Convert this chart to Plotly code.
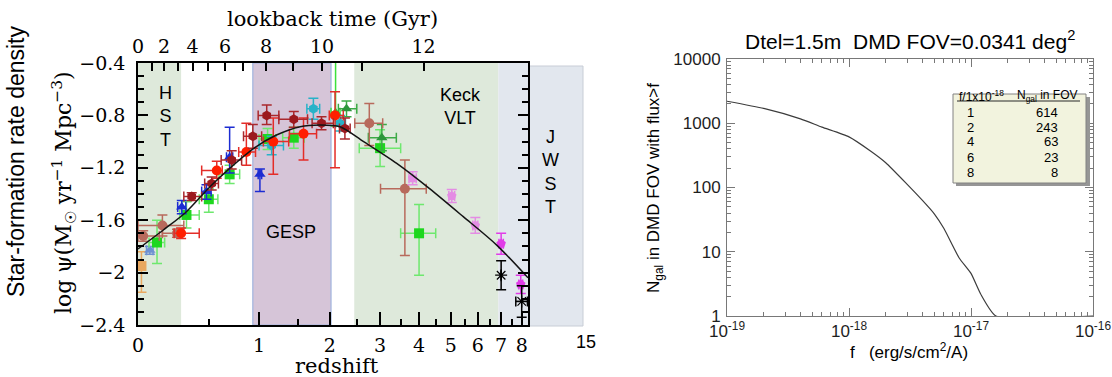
import math
import plotly.graph_objects as go

W, H = 1112, 377

# ---------------- Left panel: cosmic star-formation history ----------------
curve_z = [0.0, 0.156, 0.32, 0.51, 0.69, 0.94, 1.21, 1.53, 1.83, 2.18, 2.64, 3.4, 4.3, 5.44, 6.8, 8.33]
curve_logpsi = [-1.82, -1.675, -1.535, -1.344, -1.204, -1.051, -0.95, -0.886, -0.873, -0.886,
                -1.0, -1.166, -1.357, -1.573, -1.79, -2.04]

# point tuples: (z, log psi, z err -, z err +, log psi err -, log psi err +)
red_pts = [
    (0.28, -1.70, 0.05, 0.14, 0.04, 0.04),
    (0.57, -1.22, 0.13, 0.05, 0.06, 0.07),
    (0.86, -1.08, 0.08, 0.10, 0.10, 0.22),
    (1.17, -1.00, 0.12, 0.20, 0.25, 0.18),
    (1.58, -0.94, 0.20, 0.20, 0.20, 0.12),
    (2.09, -0.80, 0.10, 0.15, 0.40, 0.18),
]
maroon_pts = [
    (0.36, -1.42, 0.06, 0.08, 0.03, 0.03),
    (0.525, -1.32, 0.06, 0.06, 0.05, 0.05),
    (0.71, -1.14, 0.10, 0.10, 0.07, 0.07),
    (0.93, -0.96, 0.10, 0.10, 0.09, 0.09),
    (1.09, -0.80, 0.10, 0.15, 0.07, 0.08),
    (1.44, -0.83, 0.20, 0.20, 0.06, 0.06),
    (1.86, -0.86, 0.15, 0.20, 0.05, 0.05),
    (2.27, -0.90, 0.10, 0.10, 0.08, 0.08),
]
green_sq_pts = [
    (0.115, -1.77, 0.05, 0.05, 0.16, 0.17),
    (0.32, -1.56, 0.05, 0.10, 0.10, 0.10),
    (0.50, -1.44, 0.08, 0.08, 0.10, 0.08),
    (0.69, -1.25, 0.10, 0.10, 0.07, 0.07),
    (1.10, -0.98, 0.10, 0.10, 0.08, 0.08),
    (1.44, -0.97, 0.15, 0.15, 0.08, 0.08),
    (3.00, -1.05, 0.45, 0.50, 0.14, 0.14),
    (4.00, -1.70, 0.50, 0.50, 0.32, 0.22),
]
green_tri_pts = [
    (2.10, -0.78, 0.08, 0.08, 0.10, 0.70),
]
dkgreen_tri_pts = [
    (2.30, -0.75, 0.15, 0.20, 0.06, 0.06),
    (3.04, -0.97, 0.30, 0.35, 0.10, 0.10),
]
blue_pts = [
    (0.285, -1.50, 0.03, 0.03, 0.05, 0.05),
    (0.48, -1.38, 0.04, 0.04, 0.06, 0.05),
    (0.69, -1.12, 0.03, 0.03, 0.12, 0.23),
    (1.01, -1.25, 0.02, 0.02, 0.13, 0.04),
]
teal_pts = [
    (1.15, -1.03, 0.15, 0.15, 0.07, 0.07),
    (1.73, -0.75, 0.10, 0.10, 0.08, 0.08),
    (2.18, -0.86, 0.08, 0.10, 0.06, 0.06),
]
brown_pts = [
    (0.03, -1.72, 0.03, 0.10, 0.04, 0.04),
    (0.15, -1.64, 0.15, 0.15, 0.08, 0.08),
    (0.25, -1.70, 0.10, 0.04, 0.03, 0.03),
    (2.76, -0.86, 0.30, 0.30, 0.17, 0.15),
    (3.61, -1.36, 0.60, 0.60, 0.51, 0.22),
]
tan_pts = [(0.02, -1.95, 0.01, 0.01, 0.20, 0.11)]
steel_pts = [(0.07, -1.83, 0.02, 0.02, 0.03, 0.03)]
pink_pts = [
    (3.82, -1.28, 0.10, 0.10, 0.05, 0.05),
    (5.03, -1.415, 0.10, 0.10, 0.05, 0.05),
    (5.90, -1.64, 0.10, 0.10, 0.06, 0.06),
]
magenta_pts = [
    (7.00, -1.78, 0.10, 0.10, 0.08, 0.08),
    (7.95, -2.09, 0.10, 0.10, 0.07, 0.07),
]
black_pts = [
    (7.00, -2.02, 0.00, 0.00, 0.11, 0.11),
    (8.00, -2.22, 0.30, 0.30, 0.12, 0.12),
]

# telescope bands (redshift ranges)
hst_z = [0.0, 0.28]
gesp_z = [0.93, 2.02]
keck_z = [2.45, 6.87]
jwst_z = [6.87, 8.33]

z_max = 8.33
z_major = [0, 1, 2, 3, 4, 5, 6, 7, 8]
z_minor = [0.5, 1.5, 2.5, 3.5, 4.5, 5.5, 6.5, 7.5]
lookback_gyr = [0, 1, 2, 3, 4, 5, 6, 7, 8, 9, 10, 11, 12]
lookback_z = [0.0, 0.082, 0.161, 0.26, 0.367, 0.496, 0.646, 0.828, 1.082, 1.434, 1.87, 2.60, 4.13]
psi_ticks = [-0.4, -0.8, -1.2, -1.6, -2.0, -2.4]
psi_labels = ["\u22120.4", "\u22120.8", "\u22121.2", "\u22121.6", "\u22122", "\u22122.4"]

# ---------------- Right panel: galaxy counts ----------------
flux = [1e-19, 2e-19, 4e-19, 6e-19, 1e-18, 1.5e-18, 2e-18, 3e-18, 4e-18, 5e-18, 6e-18,
        8e-18, 1e-17, 1.2e-17, 1.6e-17, 1e-16]
ngal = [2200, 1700, 1170, 870, 614, 370, 243, 112, 63, 39, 23, 8, 4.6, 2.2, 1.0, 1.0]
table_f = ["1", "2", "4", "6", "8"]
table_n = ["614", "243", "63", "23", "8"]

# ---------------- geometry (pixels) ----------------
L_x0, L_x1, L_y0, L_y1 = 138, 528, 63, 325
R_x0, R_x1, R_y0, R_y1 = 727, 1093, 59, 316


def px(p):
    return p / W


def py(p):
    return 1 - p / H


SERIF = "DejaVu Serif, serif"
SANS = "Liberation Sans, Arial, sans-serif"

fig = go.Figure()


def band(zr, fill, line_color=None):
    xs = [1 + zr[0], 1 + zr[1], 1 + zr[1], 1 + zr[0], 1 + zr[0]]
    ys = [-2.4, -2.4, -0.4, -0.4, -2.4]
    fig.add_trace(go.Scatter(
        x=xs, y=ys, mode="lines", fill="toself", fillcolor=fill,
        line=dict(color=line_color or "rgba(0,0,0,0)", width=1.2 if line_color else 0),
        xaxis="x", yaxis="y", hoverinfo="skip", showlegend=False))


band(hst_z, "rgb(222,233,219)")
band(keck_z, "rgb(222,233,219)")
band(jwst_z, "rgb(226,231,238)")
band(gesp_z, "rgb(214,197,216)", "rgb(160,180,222)")


def points(pts, color, symbol, errcolor=None, size=10, line=None):
    errcolor = errcolor or color
    mk = dict(symbol=symbol, size=size, color=color)
    if line:
        mk["line"] = line
    fig.add_trace(go.Scatter(
        x=[1 + p[0] for p in pts], y=[p[1] for p in pts], mode="markers",
        marker=mk,
        error_x=dict(type="data", symmetric=False, array=[p[3] for p in pts],
                     arrayminus=[p[2] for p in pts], color=errcolor, thickness=1.5, width=5),
        error_y=dict(type="data", symmetric=False, array=[p[5] for p in pts],
                     arrayminus=[p[4] for p in pts], color=errcolor, thickness=1.5, width=5),
        xaxis="x", yaxis="y", hoverinfo="skip", showlegend=False))


points(tan_pts, "rgb(233,168,96)", "square")
points(steel_pts, "rgb(110,145,210)", "triangle-up")
points(green_sq_pts, "rgb(30,215,30)", "square", "rgb(110,232,110)")
points(green_tri_pts, "rgb(40,210,40)", "triangle-up", "rgb(60,225,60)")
points(dkgreen_tri_pts, "rgb(45,150,60)", "triangle-up", "rgb(60,170,70)")
points(blue_pts, "rgb(28,44,210)", "triangle-up")
points(teal_pts, "rgb(40,178,200)", "hexagon")
points(brown_pts, "rgb(184,106,92)", "circle")
points(red_pts, "rgb(255,30,0)", "circle", "rgb(228,45,40)")
points(maroon_pts, "rgb(155,25,30)", "hexagon", "rgb(170,40,45)")
points(pink_pts, "rgb(228,140,228)", "pentagon")
points(magenta_pts, "rgb(225,60,232)", "pentagon")
points(black_pts, "black", "asterisk-open", "black", size=10, line=dict(color="black", width=1.2))

fig.add_trace(go.Scatter(
    x=[1 + z for z in curve_z], y=curve_logpsi, mode="lines",
    line=dict(color="rgb(20,20,20)", width=1.5, shape="spline", smoothing=0.8),
    xaxis="x", yaxis="y", hoverinfo="skip", showlegend=False))

# invisible trace to activate top (lookback) axis
fig.add_trace(go.Scatter(x=[1, 1 + z_max], y=[-2.4, -2.4], mode="markers",
                         marker=dict(opacity=0), xaxis="x2", yaxis="y",
                         hoverinfo="skip", showlegend=False))

# right-panel curve
fig.add_trace(go.Scatter(x=flux, y=ngal, mode="lines",
                         line=dict(color="rgb(60,60,60)", width=1.2, shape="spline", smoothing=0.5),
                         xaxis="x3", yaxis="y3", hoverinfo="skip", showlegend=False))

lrange = [0, math.log10(1 + z_max)]
tickfont_serif = dict(family=SERIF, size=19, color="black")

fig.update_layout(
    width=W, height=H, margin=dict(l=0, r=0, t=0, b=0, autoexpand=False),
    paper_bgcolor="white", plot_bgcolor="white", hovermode=False,
    xaxis=dict(domain=[px(L_x0), px(L_x1)], anchor="y", type="log", range=lrange,
               tickmode="array", tickvals=[1 + z for z in z_major], ticktext=[str(z) for z in z_major],
               ticks="inside", ticklen=13, tickwidth=1.5, tickcolor="black",
               minor=dict(tickmode="array", tickvals=[1 + z for z in z_minor], ticks="inside",
                          ticklen=6, tickwidth=1.5, tickcolor="black", showgrid=False),
               showline=True, linecolor="black", linewidth=1.5, mirror=False,
               showgrid=False, zeroline=False, tickfont=tickfont_serif, ticklabelstandoff=2),
    xaxis2=dict(overlaying="x", side="top", anchor="y", type="log", range=lrange,
                tickmode="array", tickvals=[1 + z for z in lookback_z],
                ticktext=[str(g) if g % 2 == 0 else "" for g in lookback_gyr],
                ticks="inside", ticklen=8, tickwidth=1.5, tickcolor="black",
                showline=True, linecolor="black", linewidth=1.5,
                showgrid=False, zeroline=False, tickfont=tickfont_serif, ticklabelstandoff=1),
    yaxis=dict(domain=[py(L_y1), py(L_y0)], anchor="x", range=[-2.4, -0.4],
               tickmode="array", tickvals=psi_ticks, ticktext=psi_labels,
               ticks="inside", ticklen=10, tickwidth=1.5, tickcolor="black",
               minor=dict(dtick=0.1, tick0=-0.4, ticks="inside", ticklen=6, tickwidth=1.5,
                          tickcolor="black", showgrid=False),
               showline=True, linecolor="black", linewidth=1.5, mirror="ticks",
               showgrid=False, zeroline=False, tickfont=tickfont_serif, ticklabelstandoff=7),
    xaxis3=dict(domain=[px(R_x0), px(R_x1)], anchor="y3", type="log", range=[-19, -16],
                tickmode="array", tickvals=[1e-19, 1e-18, 1e-17, 1e-16],
                ticktext=["10<sup>-19</sup>", "10<sup>-18</sup>", "10<sup>-17</sup>", "10<sup>-16</sup>"],
                ticks="inside", ticklen=8, tickwidth=1, tickcolor="rgb(120,120,120)",
                minor=dict(tickmode="array",
                           tickvals=[m * 10.0 ** e for e in range(-19, -16) for m in range(2, 10)],
                           ticks="inside", ticklen=4, tickwidth=1, tickcolor="rgb(120,120,120)",
                           showgrid=False),
                showline=True, linecolor="rgb(120,120,120)", linewidth=1, mirror="ticks",
                showgrid=False, zeroline=False,
                tickfont=dict(family=SANS, size=17, color="rgb(30,30,30)")),
    yaxis3=dict(domain=[py(R_y1), py(R_y0)], anchor="x3", type="log", range=[0, 4],
                tickmode="array", tickvals=[1, 10, 100, 1000, 10000],
                ticktext=["1", "10", "100", "1000", "10000"],
                ticks="inside", ticklen=8, tickwidth=1, tickcolor="rgb(120,120,120)",
                minor=dict(tickmode="array",
                           tickvals=[m * 10.0 ** e for e in range(0, 4) for m in range(2, 10)],
                           ticks="inside", ticklen=4, tickwidth=1, tickcolor="rgb(120,120,120)",
                           showgrid=False),
                showline=True, linecolor="rgb(120,120,120)", linewidth=1, mirror="ticks",
                showgrid=False, zeroline=False,
                tickfont=dict(family=SANS, size=17, color="rgb(30,30,30)"), ticklabelstandoff=2),
)

shapes = [
    # JWST box continuing outside the left axes
    dict(type="rect", xref="paper", yref="paper", x0=px(528), x1=px(583), y0=py(326), y1=py(66),
         fillcolor="rgb(226,231,238)", line=dict(color="rgb(200,205,214)", width=1), layer="below"),
    # table shadow and box
    dict(type="rect", xref="paper", yref="paper", x0=px(956), x1=px(1090), y0=py(186), y1=py(97),
         fillcolor="rgb(150,150,150)", line=dict(width=0)),
    dict(type="rect", xref="paper", yref="paper", x0=px(953), x1=px(1086), y0=py(183), y1=py(94),
         fillcolor="rgb(242,243,222)", line=dict(color="rgb(130,130,130)", width=1)),
    dict(type="line", xref="paper", yref="paper", x0=px(957), x1=px(1080), y0=py(101), y1=py(101),
         line=dict(color="rgb(40,40,40)", width=1)),
]
fig.update_layout(shapes=shapes)

ann = []


def text(x, y, t, size, family=SANS, angle=0, xanchor="center", color="black"):
    ann.append(dict(x=px(x), y=py(y), xref="paper", yref="paper", text=t, showarrow=False,
                    font=dict(family=family, size=size, color=color), textangle=angle,
                    xanchor=xanchor, yanchor="middle"))


text(332, 19, "lookback time (Gyr)", 21, SERIF)
text(337, 366, "redshift", 21, SERIF)
text(16, 161, "Star-formation rate density", 23, SANS, -90)
text(64, 193, "log \u03c8(M<sub>\u2609</sub> yr<sup>\u22121</sup> Mpc<sup>\u22123</sup>)", 22, SERIF, -90)
text(165, 117, "H<br>S<br>T", 18)
text(291, 232, "GESP", 18)
text(460, 106, "Keck<br>VLT", 18)
text(550, 172, "J<br>W<br>S<br>T", 18)
text(586, 342, "15", 18)

text(910, 40, "Dtel=1.5m\u00a0\u00a0DMD FOV=0.0341 deg<sup>2</sup>", 21)
text(655, 188, "N<sub>gal</sub> in DMD FOV with flux>f", 17, SANS, -90)
text(909, 351, "f\u00a0\u00a0\u00a0(erg/s/cm<sup>2</sup>/A)", 17)

# table contents
text(957, 96, "f/1x10<sup>-18</sup>", 12, xanchor="left")
text(1015, 96, "N<sub>gal</sub> in FOV", 12, xanchor="left")
row_y = [112, 127, 142, 157, 172]
for fv, nv, yy in zip(table_f, table_n, row_y):
    text(970, yy, fv, 13)
    text(1060, yy, nv, 13, xanchor="right")

fig.update_layout(annotations=ann)

fig.write_html("out.html", config={"displayModeBar": False},
               post_script="document.body.style.margin='0px';document.body.style.overflow='hidden';")
